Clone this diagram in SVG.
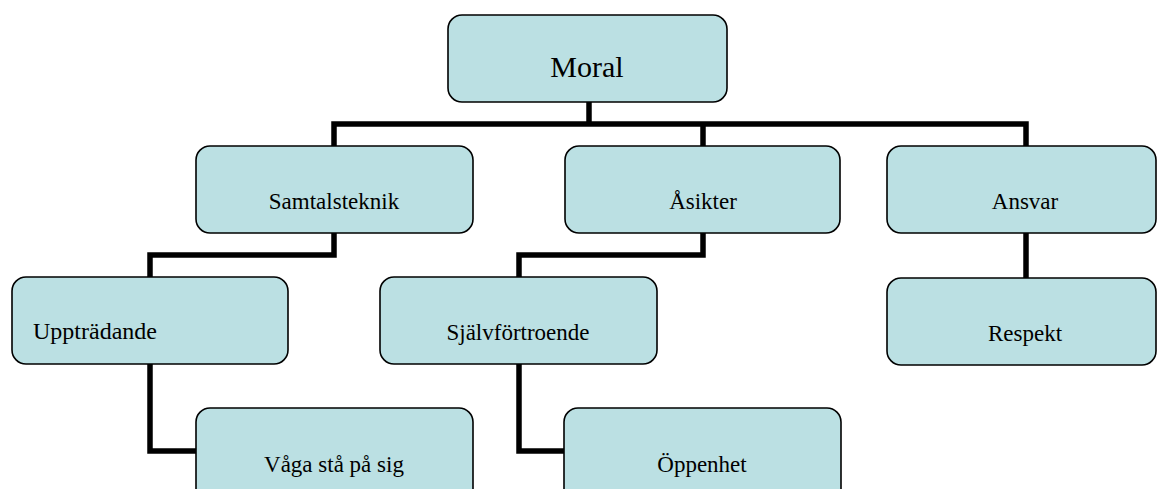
<svg xmlns="http://www.w3.org/2000/svg" width="1157" height="489" viewBox="0 0 1157 489">
<style>
.box{fill:#BBE0E3;stroke:#000;stroke-width:1.6}
.lbl{font-family:"Liberation Serif","Times New Roman",serif;font-size:23px;fill:#000;text-anchor:middle}
.conn{fill:none;stroke:#000;stroke-width:5.5;stroke-linejoin:miter}
</style>
<rect width="1157" height="489" fill="#fff"/>
<g id="connectors">
<path class="conn" d="M589,102 V124"/>
<path class="conn" d="M334,146 V124 H1026 V146"/>
<path class="conn" d="M703,124 V146"/>
<path class="conn" d="M334,233 V255 H150 V277"/>
<path class="conn" d="M150,364 V451 H196"/>
<path class="conn" d="M703,233 V255 H519 V277"/>
<path class="conn" d="M519,364 V451 H564"/>
<path class="conn" d="M1026,233 V278"/>
</g>
<g id="moral"><rect class="box" x="448" y="15" width="279" height="87" rx="14"/><text class="lbl" x="587" y="77" style="font-size:30px">Moral</text></g>
<g id="samtalsteknik"><rect class="box" x="196" y="146" width="277" height="87" rx="14"/><text class="lbl" x="334" y="209">Samtalsteknik</text></g>
<g id="asikter"><rect class="box" x="565" y="146" width="275" height="87" rx="14"/><text class="lbl" x="703" y="209">Åsikter</text></g>
<g id="ansvar"><rect class="box" x="887" y="146" width="269" height="87" rx="14"/><text class="lbl" x="1025" y="209">Ansvar</text></g>
<g id="upptradande"><rect class="box" x="12" y="277" width="276" height="87" rx="14"/><text class="lbl" x="33" y="339" style="text-anchor:start;font-size:24px">Uppträdande</text></g>
<g id="sjalvfortroende"><rect class="box" x="380" y="277" width="277" height="87" rx="14"/><text class="lbl" x="518" y="340">Självförtroende</text></g>
<g id="respekt"><rect class="box" x="887" y="278" width="269" height="87" rx="14"/><text class="lbl" x="1025" y="341">Respekt</text></g>
<g id="vaga"><rect class="box" x="196" y="408" width="277" height="100" rx="14"/><text class="lbl" x="334" y="472">Våga stå på sig</text></g>
<g id="oppenhet"><rect class="box" x="564" y="408" width="277" height="100" rx="14"/><text class="lbl" x="702" y="472">Öppenhet</text></g>
</svg>
